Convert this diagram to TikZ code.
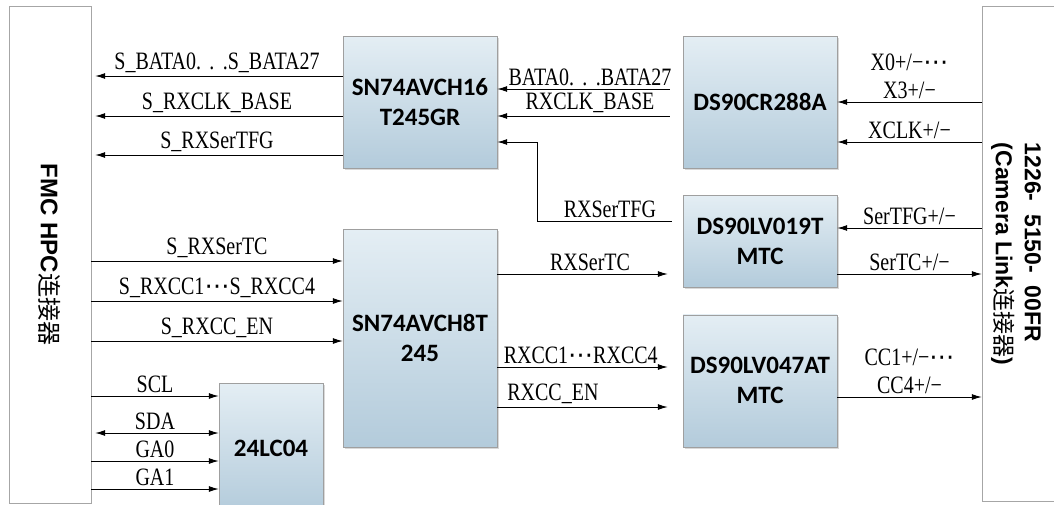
\documentclass[tikz,border=0pt]{standalone}
\usepackage{fontspec}
\setmainfont[FakeStretch=0.8]{Liberation Serif}
\newfontfamily\chipfont{Carlito}
\newfontfamily\arialfont{Liberation Sans}
\newfontfamily\cjk{Noto Sans CJK SC}
\newfontfamily\dejavu{DejaVu Sans}
\newcommand{\mdots}{{\dejavu ⋯}}
\newcommand{\sdots}{.\,\,.\,\,.}
\usepackage{tikz}
\usetikzlibrary{arrows, arrows.meta, positioning, shadows, calc}
\definecolor{chiptop}{HTML}{E4EEF4}
\definecolor{chipbot}{HTML}{B3CBDB}

\begin{document}
\begin{tikzpicture}[x=1pt, y=-1pt, >={Latex[length=10pt,width=6pt]},
	chip/.style={draw=gray!75, top color=chiptop, bottom color=chipbot, drop shadow={shadow xshift=2pt, shadow yshift=-2pt, opacity=0.3}, minimum width=154pt, align=center, font=\chipfont\bfseries\fontsize{25}{30}\selectfont},
	conn/.style={draw=gray!70, fill=white},
	sig/.style={line width=1pt},
	lbl/.style={font=\fontsize{25}{28}\selectfont, inner sep=3pt, align=center}]
		\useasboundingbox (0,0) rectangle (1054,504);
		\node[conn, minimum width=82pt, minimum height=497pt] (fmc) at (50,254.5){};
		\node[conn, minimum width=88pt, minimum height=495pt] (cam) at (1026,253.5){};
		\node[rotate=-90, font=\fontsize{24}{28}\selectfont] (fmctext) at (fmc.center){\arialfont\bfseries FMC HPC\cjk\mdseries 连接器};
		\node[rotate=-90, align=left, font=\arialfont\bfseries\fontsize{23}{29}\selectfont] (camtext) at (1016,254){1226-\ \ 5150-\ \ 00FR\\(Camera Link{\cjk\mdseries 连接器})};
		\node[chip, minimum height=132pt] (sn16) at (420,102){SN74AVCH16\\T245GR};
		\node[chip, minimum height=132pt] (cr288) at (760,102){DS90CR288A};
		\node[chip, minimum height=92pt] (lv019)[below=27pt of cr288]{DS90LV019T\\MTC};
		\node[chip, minimum height=132pt] (lv047)[below=27pt of lv019]{DS90LV047AT\\MTC};
		\node[chip, minimum height=218pt] (sn8)[below=61pt of sn16]{SN74AVCH8T\\245};
		\node[chip, minimum width=104pt, minimum height=130pt] (eeprom) at (271,448){24LC04};
		\coordinate (bend) at (537,142);
		\draw[sig,->,shorten >=4pt] (sn16.west |- 0,76)--(fmc.east |- 0,76) node[lbl,midway,above]{S\_BATA0\sdots S\_BATA27};
		\draw[sig,->,shorten >=4pt] (sn16.west |- 0,116)--(fmc.east |- 0,116) node[lbl,midway,above]{S\_RXCLK\_BASE};
		\draw[sig,->,shorten >=4pt] (sn16.west |- 0,155)--(fmc.east |- 0,155) node[lbl,midway,above]{S\_RXSerTFG};
		\draw[sig,->,shorten <=13pt] (cr288.west |- 0,89)--(sn16.east |- 0,89) node[lbl,midway,above]{BATA0\sdots BATA27};
		\draw[sig,->,shorten <=13pt] (cr288.west |- 0,116)--(sn16.east |- 0,116) node[lbl,midway,above]{RXCLK\_BASE};
		\draw[sig,->,shorten <=11pt] (lv019.west |- 0,221)-|(bend) node[lbl,pos=0.25,above]{RXSerTFG}--(sn16.east |- bend);
		\draw[sig,->] (cam.west |- 0,102)--(cr288.east |- 0,102) node[lbl,midway,above]{X0+/−\mdots\\X3+/−};
		\draw[sig,->] (cam.west |- 0,142)--(cr288.east |- 0,142) node[lbl,midway,above]{XCLK+/−};
		\draw[sig,->] (cam.west |- 0,228)--(lv019.east |- 0,228) node[lbl,midway,above]{SerTFG+/−};
		\draw[sig,->] (lv019.east |- 0,274)--(cam.west |- 0,274) node[lbl,midway,above]{SerTC+/−};
		\draw[sig,->] (lv047.east |- 0,397)--(cam.west |- 0,397) node[lbl,midway,above]{CC1+/−\mdots\\CC4+/−};
		\draw[sig,->] (fmc.east |- 0,261)--(sn8.west |- 0,261) node[lbl,midway,above]{S\_RXSerTC};
		\draw[sig,->] (fmc.east |- 0,301)--(sn8.west |- 0,301) node[lbl,midway,above]{S\_RXCC1\mdots S\_RXCC4};
		\draw[sig,->] (fmc.east |- 0,341)--(sn8.west |- 0,341) node[lbl,midway,above]{S\_RXCC\_EN};
		\draw[sig,->,shorten >=15pt] (sn8.east |- 0,274)--(lv019.west |- 0,274) node[lbl,midway,above]{RXSerTC};
		\draw[sig,->,shorten >=15pt] (sn8.east |- 0,367)--(lv047.west |- 0,367) node[lbl,pos=0.45,above]{RXCC1\mdots RXCC4};
		\draw[sig,->,shorten >=15pt] (sn8.east |- 0,407)--(lv047.west |- 0,407) node[lbl,pos=0.3,above]{RXCC\_EN};
		\draw[sig,->] (fmc.east |- 0,396)--(eeprom.west |- 0,396) node[lbl,midway,above]{SCL};
		\draw[sig,<->,shorten <=4pt] (fmc.east |- 0,433)--(eeprom.west |- 0,433) node[lbl,midway,above]{SDA};
		\draw[sig,->] (fmc.east |- 0,461)--(eeprom.west |- 0,461) node[lbl,midway,above]{GA0};
		\draw[sig,->] (fmc.east |- 0,489)--(eeprom.west |- 0,489) node[lbl,midway,above]{GA1};
	\end{tikzpicture}
\end{document}
